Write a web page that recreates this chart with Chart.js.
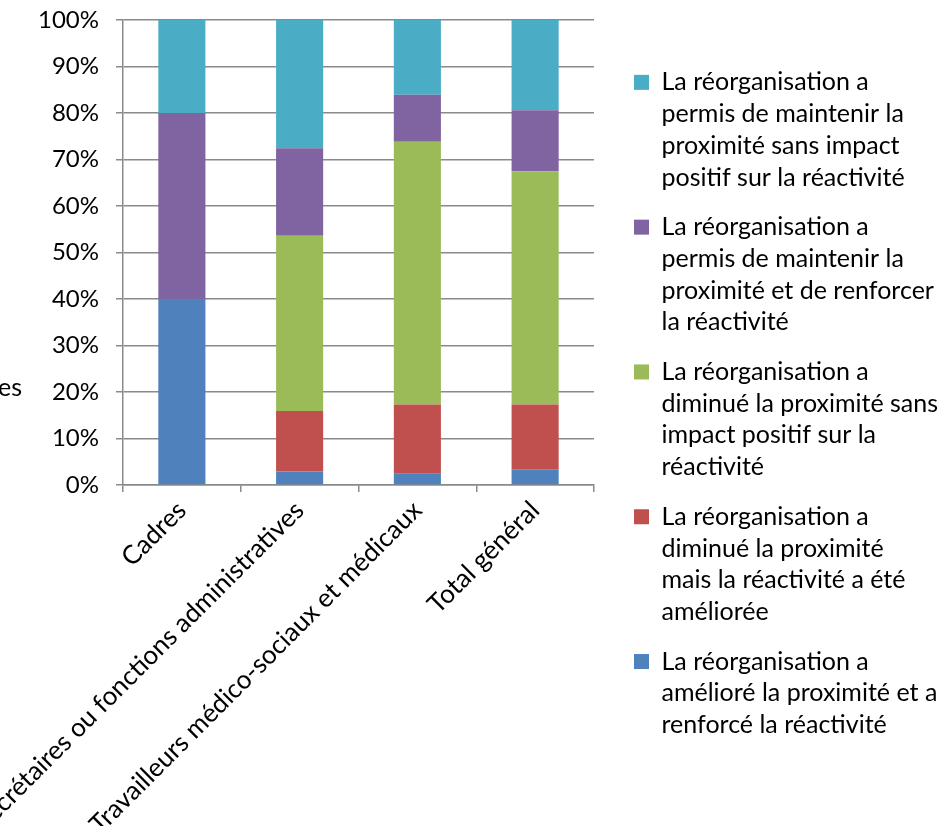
<!DOCTYPE html>
<html lang="fr">
<head>
<meta charset="utf-8">
<title>Réorganisation : proximité et réactivité</title>
<script src="https://cdn.jsdelivr.net/npm/chart.js@4/dist/chart.umd.min.js"></script>
<style>
  html, body { margin: 0; padding: 0; background: #fff; }
  #wrap { width: 941px; height: 826px; position: relative; }
</style>
</head>
<body>
<div id="wrap"><canvas id="myChart"></canvas></div>
<script>
// categories (x axis)
var categories = [
  'Cadres',
  'Secrétaires ou fonctions administratives',
  'Travailleurs médico-sociaux et médicaux',
  'Total général'
];

// share of answers, in % of each category
var amelioreRenforce = [40, 2.9, 2.4, 3.4];
var diminueAmeliore  = [0, 13.0, 14.9, 13.9];
var diminueSans      = [0, 37.7, 56.5, 50.2];
var maintenuRenforce = [40, 18.8, 10.1, 13.1];
var maintenuSans     = [20, 27.6, 16.1, 19.4];

// legend texts, already cut in lines
var labelsAmelioreRenforce = ['La réorganisation a', 'amélioré la proximité et a', 'renforcé la réactivité'];
var labelsDiminueAmeliore  = ['La réorganisation a', 'diminué la proximité', 'mais la réactivité a été', 'améliorée'];
var labelsDiminueSans      = ['La réorganisation a', 'diminué la proximité sans', 'impact positif sur la', 'réactivité'];
var labelsMaintenuRenforce = ['La réorganisation a', 'permis de maintenir la', 'proximité et de renforcer', 'la réactivité'];
var labelsMaintenuSans     = ['La réorganisation a', 'permis de maintenir la', 'proximité sans impact', 'positif sur la réactivité'];

var yTicks = [0, 10, 20, 30, 40, 50, 60, 70, 80, 90, 100];

var FONT = 'Lato';
var gridColor = '#8a8a8a';

// moves the legend away from the plot and a bit up
var nudgeLegend = {
  id: 'nudgeLegend',
  afterLayout: function(chart) {
    chart.legend.left += 22;
    chart.legend.right += 22;
    chart.legend.top -= 16;
    chart.legend.bottom -= 16;
  }
};

// piece of side text on the left
var sideText = {
  id: 'sideText',
  afterDraw: function(chart) {
    var ctx = chart.ctx;
    ctx.save();
    ctx.font = '25px ' + FONT;
    ctx.fillStyle = '#000';
    ctx.textAlign = 'right';
    ctx.textBaseline = 'middle';
    ctx.fillText('es', 22, 388);
    ctx.restore();
  }
};

function makeSet(lines, data, color) {
  return {
    label: lines.join(' '),
    lines: lines,
    data: data,
    backgroundColor: color,
    borderWidth: 0,
    barPercentage: 0.4,
    categoryPercentage: 1.0
  };
}

function printBars() {
  var ctx = document.getElementById('myChart').getContext('2d');
  var myChart = new Chart(ctx, {
    type: 'bar',
    data: {
      labels: categories,
      datasets: [
        makeSet(labelsAmelioreRenforce, amelioreRenforce, '#4F81BD'),
        makeSet(labelsDiminueAmeliore, diminueAmeliore, '#C0504D'),
        makeSet(labelsDiminueSans, diminueSans, '#9BBB59'),
        makeSet(labelsMaintenuRenforce, maintenuRenforce, '#8064A2'),
        makeSet(labelsMaintenuSans, maintenuSans, '#4BACC6')
      ]
    },
    options: {
      responsive: true,
      maintainAspectRatio: false,
      animation: false,
      layout: { padding: { top: 20, right: 25, bottom: 0, left: 0 } },
      plugins: {
        tooltip: { enabled: false },
        legend: {
          position: 'right',
          reverse: true,
          maxWidth: 322,
          labels: {
            boxWidth: 15,
            boxHeight: 15,
            padding: 18,
            color: '#000',
            font: { family: FONT, size: 25, lineHeight: 1.268 },
            generateLabels: function(chart) {
              var items = Chart.defaults.plugins.legend.labels.generateLabels(chart);
              items.forEach(function(it) {
                it.text = chart.data.datasets[it.datasetIndex].lines;
                it.lineWidth = 0;
              });
              return items;
            }
          }
        }
      },
      scales: {
        x: {
          stacked: true,
          grid: { drawOnChartArea: false, drawTicks: true, tickLength: 7, color: gridColor, lineWidth: 1.5 },
          border: { display: true, color: gridColor, width: 1.5 },
          ticks: {
            color: '#000',
            font: { family: FONT, size: 26 },
            maxRotation: 45,
            minRotation: 45,
            autoSkip: false,
            padding: 3
          },
          afterFit: function(scale) { scale.height = 341; }
        },
        y: {
          stacked: true,
          min: 0,
          max: 100,
          afterBuildTicks: function(scale) {
            scale.ticks = yTicks.map(function(v) { return { value: v }; });
          },
          grid: { color: gridColor, lineWidth: 1.5, tickLength: 7 },
          border: { display: true, color: gridColor, width: 1.5 },
          ticks: {
            color: '#000',
            font: { family: FONT, size: 24 },
            padding: 17,
            callback: function(v) { return v + '%'; }
          },
          afterFit: function(scale) {
            scale.width = 123;
            scale.paddingTop = 0;
            scale.paddingBottom = 0;
          }
        }
      }
    },
    plugins: [nudgeLegend, sideText]
  });
}

function init() {
  printBars();
}

init();
</script>
</body>
</html>
